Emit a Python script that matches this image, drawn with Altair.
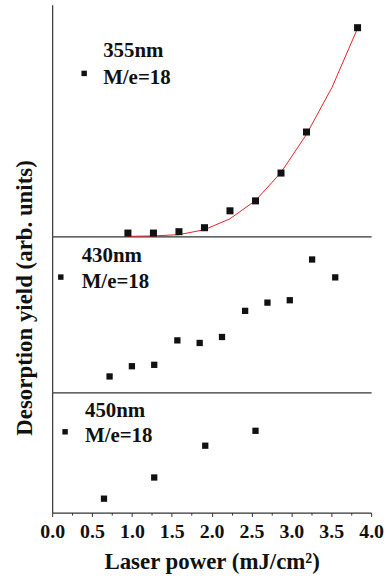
import altair as alt
import pandas as pd

# --- data ---
x355 = [0.95, 1.27, 1.59, 1.91, 2.23, 2.55, 2.87, 3.19, 3.83]
y355 = [3.3, 3.3, 4.7, 8.7, 25.7, 35.7, 63.7, 105, 210]
fit_x = [0.95, 1.27, 1.59, 1.91, 2.23, 2.55, 2.87, 3.19, 3.51, 3.83]
fit_y = [0, 0.4, 1.7, 6.7, 17.7, 36, 64.3, 102.7, 150, 209.3]

x430 = [0.72, 1.00, 1.28, 1.57, 1.85, 2.13, 2.42, 2.70, 2.98, 3.26, 3.55]
y430 = [16, 26.3, 27.7, 52.3, 49.7, 55.7, 82, 90.3, 92.7, 133.7, 115.7]

x450 = [0.65, 1.28, 1.92, 2.55]
y450 = [14, 35.3, 67.3, 82.3]

x_ticks = [i * 0.25 for i in range(17)]
labels_355 = ["355nm", "M/e=18"]
labels_430 = ["430nm", "M/e=18"]
labels_450 = ["450nm", "M/e=18"]

FONT = "Liberation Serif, Times New Roman, serif"
AX = "#333333"
INK = "#111111"
W = 321

def xenc(full=False):
    if full:
        ax = alt.Axis(
            values=x_ticks,
            labelExpr="datum.value % 0.5 === 0 ? format(datum.value, '.1f') : ''",
            labelFont=FONT, labelFontWeight="bold", labelFontSize=20, labelColor=INK,
            labelOverlap=False, labelPadding=5.5, labelFlush=False,
            tickSize={"condition": {"test": "datum.value % 0.5 === 0", "value": 4}, "value": 2.5},
            tickColor=AX, tickWidth=1,
            domainColor=AX, domainWidth=1.2, grid=False,
            title="Laser power (mJ/cm²)", titleFont=FONT, titleFontWeight="bold",
            titleFontSize=23, titleColor=INK, titlePadding=9,
        )
    else:
        ax = alt.Axis(labels=False, ticks=False, title=None, grid=False,
                      domainColor=AX, domainWidth=1.2)
    return alt.X("x:Q", scale=alt.Scale(domain=[0, 4], nice=False), axis=ax)

def yenc(top, title=None):
    kw = dict(labels=False, ticks=False, grid=False, domainColor=AX, domainWidth=1.2)
    if title:
        ax = alt.Axis(title=title, titleFont=FONT, titleFontWeight="bold", titleFontSize=23,
                      titleColor=INK, titleX=-15.5, titleY=61.5, **kw)
    else:
        ax = alt.Axis(title=None, **kw)
    return alt.Y("y:Q", scale=alt.Scale(domain=[0, top], nice=False), axis=ax)

def legend(labels, mx, my, tx, ty1, ty2, msize):
    one = pd.DataFrame({"k": [0]})
    m = alt.Chart(one).mark_point(shape="square", filled=True, color=INK, opacity=1, size=msize).encode(
        x=alt.value(mx), y=alt.value(my))
    t1 = alt.Chart(one).mark_text(font=FONT, fontWeight="bold", fontSize=21, color=INK,
                                  align="left", baseline="alphabetic").encode(
        x=alt.value(tx), y=alt.value(ty1), text=alt.value(labels[0]))
    t2 = alt.Chart(one).mark_text(font=FONT, fontWeight="bold", fontSize=21, color=INK,
                                  align="left", baseline="alphabetic").encode(
        x=alt.value(tx), y=alt.value(ty2), text=alt.value(labels[1]))
    return m + t1 + t2

# top panel
d355 = pd.DataFrame({"x": x355, "y": y355})
dfit = pd.DataFrame({"x": fit_x, "y": fit_y})
top_pts = alt.Chart(d355).mark_point(shape="square", filled=True, color=INK, opacity=1, size=50).encode(
    x=xenc(), y=yenc(233))
top_fit = alt.Chart(dfit).mark_line(color="#e8202a", strokeWidth=1).encode(x=xenc(), y=yenc(233))
top = (top_fit + top_pts + legend(labels_355, 32.2, 69, 51.3, 53, 80, 30)).properties(width=W, height=233)

# middle panel
d430 = pd.DataFrame({"x": x430, "y": y430})
mid_pts = alt.Chart(d430).mark_point(shape="square", filled=True, color=INK, opacity=1, size=40).encode(
    x=xenc(), y=yenc(157, "Desorption yield (arb. units)"))
mid = (mid_pts + legend(labels_430, 8.7, 41, 29.7, 25.7, 51.7, 30)).properties(width=W, height=157)

# bottom panel
d450 = pd.DataFrame({"x": x450, "y": y450})
bot_pts = alt.Chart(d450).mark_point(shape="square", filled=True, color=INK, opacity=1, size=40).encode(
    x=xenc(True), y=yenc(121))
bot = (bot_pts + legend(labels_450, 13, 39.7, 33, 24.7, 49.7, 30)).properties(width=W, height=121)

chart = alt.vconcat(top, mid, bot, spacing=0, bounds="flush").configure_view(stroke=None).properties(
    padding={"left": 13.5, "top": 3, "right": 5, "bottom": 5}, background="white"
)

chart.save("out.html", embed_options={"renderer": "svg", "actions": False})
